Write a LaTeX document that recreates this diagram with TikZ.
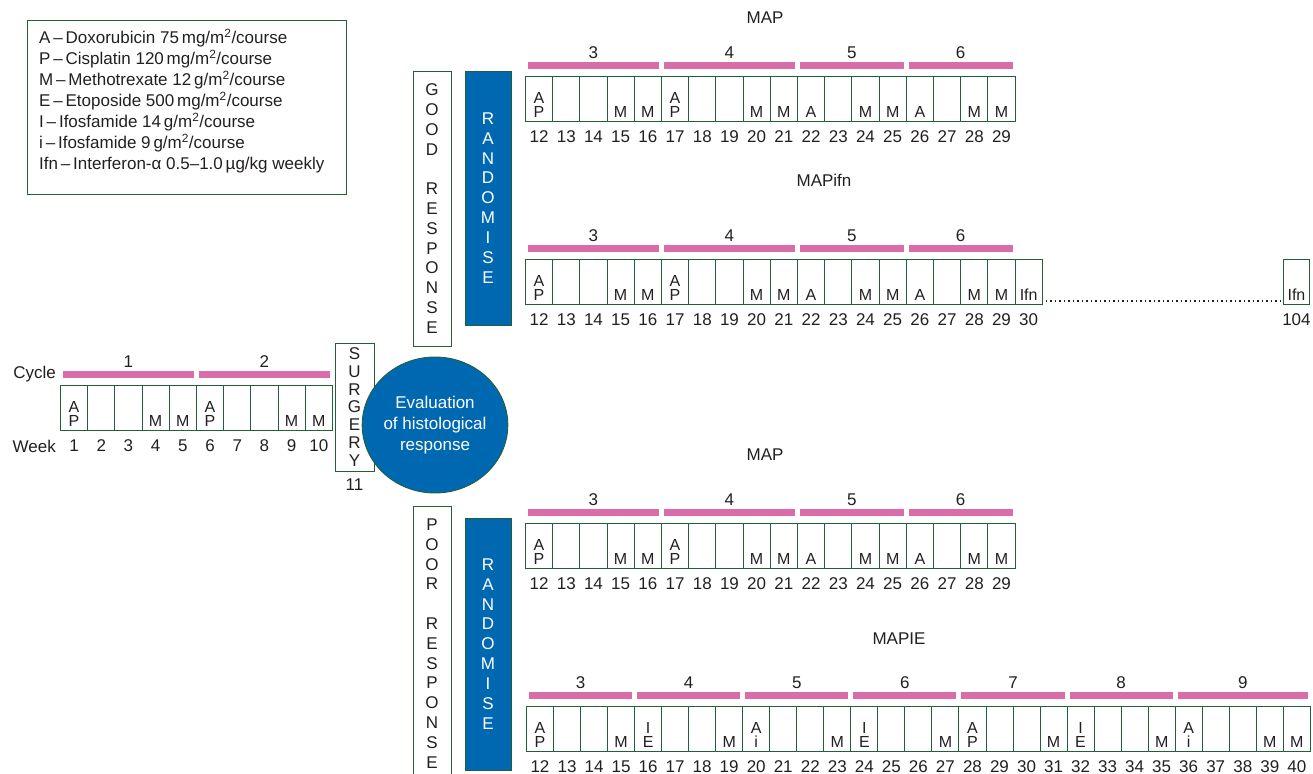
\documentclass[tikz,border=0pt]{standalone}
\usepackage{fontspec}
\setmainfont{Liberation Sans}
\usetikzlibrary{shapes.geometric}
\definecolor{boxgreen}{RGB}{34,96,58}
\definecolor{resblue}{RGB}{0,103,177}
\definecolor{barpink}{RGB}{218,108,170}
\definecolor{inkgrey}{RGB}{35,31,32}
\tikzset{
  every node/.style={text=inkgrey},
  wk/.style={draw=boxgreen,line width=0.9pt,minimum height=45pt,inner sep=0pt,anchor=north west},
  wknum/.style={font=\fontsize{17}{19}\selectfont,inner sep=0pt},
  drug/.style={anchor=south,yshift=4pt,inner sep=0pt,align=center,font=\fontsize{16}{14.5}\selectfont},
  cycbar/.style={draw=barpink,line width=6.5pt},
  cycnum/.style={font=\fontsize{17}{19}\selectfont,inner sep=0pt,yshift=12.5pt},
  title/.style={font=\fontsize{17}{19}\selectfont,inner sep=0pt},
  respbox/.style={draw=boxgreen,line width=0.9pt,fill=white,minimum width=38pt,inner sep=0pt,align=center,font=\fontsize{17}{19.8}\selectfont},
  randbox/.style={draw=boxgreen,line width=0.9pt,fill=resblue,text=white,minimum width=46pt,inner sep=0pt,align=center,font=\fontsize{17}{19.9}\selectfont}
}
% one row of weekly boxes: name, left x, top y, first week, last week, box width
\newcommand\weekrow[6]{%
  \foreach \w in {#4,...,#5}{
    \node[wk,minimum width=#6pt] (#1-\w) at ({#2+(\w-#4)*#6},#3) {};
    \node[wknum] (#1-n\w) at ([yshift=-15pt]#1-\w.south) {\w};
  }}
% pink cycle bar over weeks: row, first, last, cycle
\newcommand\cyc[4]{%
  \draw[cycbar] ([xshift=3pt,yshift=10.5pt]#1-#2.north west) -- ([xshift=-3pt,yshift=10.5pt]#1-#3.north east)
    node[midway,cycnum] (#1-c#4) {#4};}
\begin{document}
\begin{tikzpicture}[x=1pt,y=-1pt]
  \useasboundingbox (0,0) rectangle (1313,773);
  \clip (0,0) rectangle (1313,773);
  % legend
  \node[draw=boxgreen,line width=0.9pt,minimum width=319pt,minimum height=174pt,anchor=north west] (legend) at (27,20) {};
  \node[anchor=north west,inner sep=0pt,align=left,font=\fontsize{17}{21}\selectfont] (legtxt) at ([xshift=12pt,yshift=-9pt]legend.north west)
    {A\,--\,Doxorubicin 75\,mg/m\textsuperscript{2}/course\\
     P\,--\,Cisplatin 120\,mg/m\textsuperscript{2}/course\\
     M\,--\,Methotrexate 12\,g/m\textsuperscript{2}/course\\
     E\,--\,Etoposide 500\,mg/m\textsuperscript{2}/course\\
     I\,--\,Ifosfamide 14\,g/m\textsuperscript{2}/course\\
     i\,--\,Ifosfamide 9\,g/m\textsuperscript{2}/course\\
     Ifn\,--\,Interferon-α 0.5--1.0\,µg/kg weekly};

  % cycles 1 and 2
  \weekrow{pre}{60}{385}{1}{10}{27.2}
  \cyc{pre}{1}{5}{1}
  \cyc{pre}{6}{10}{2}
  \node[title,anchor=east] (cyclelab) at (56,374.5) {Cycle};
  \node[title,anchor=east] (weeklab) at (56,446) {Week};
  \foreach \w/\t in {1/{A\\P},4/M,5/M,6/{A\\P},9/M,10/M}
    \node[drug] (pre-l\w) at (pre-\w.south) {\t};
  \node[draw=boxgreen,line width=0.9pt,minimum width=39pt,minimum height=128pt,inner sep=0pt,align=center,font=\fontsize{17}{17.7}\selectfont] (surgery) at (354.5,407) {S\\U\\R\\G\\E\\R\\Y};
  \node[wknum] (surgery-n) at ([yshift=-13pt]surgery.south) {11};
  \node[ellipse,draw=boxgreen,line width=0.9pt,fill=resblue,text=white,minimum width=112pt,minimum height=136pt,inner sep=0pt,align=center,font=\fontsize{17}{21}\selectfont] (eval) at (435,425) {Evaluation\\of histological\\response};

  % good response
  \node[respbox,minimum height=275pt] (good) at (432,208.5) {G\\O\\O\\D\\~\\R\\E\\S\\P\\O\\N\\S\\E};
  \node[randbox,minimum height=254pt] (randgood) at (488,198) {R\\A\\N\\D\\O\\M\\I\\S\\E};
  \node[title] (maptop) at (765,18) {MAP};
  \weekrow{top}{525}{76}{12}{29}{27.2}
  \cyc{top}{12}{16}{3}
  \cyc{top}{17}{21}{4}
  \cyc{top}{22}{25}{5}
  \cyc{top}{26}{29}{6}
  \foreach \w/\t in {12/{A\\P},15/M,16/M,17/{A\\P},20/M,21/M,22/A,24/M,25/M,26/A,28/M,29/M}
    \node[drug] (top-l\w) at (top-\w.south) {\t};
  \node[title] (mapifn) at (824,180) {MAPifn};
  \weekrow{ifn}{525}{259}{12}{30}{27.2}
  \cyc{ifn}{12}{16}{3}
  \cyc{ifn}{17}{21}{4}
  \cyc{ifn}{22}{25}{5}
  \cyc{ifn}{26}{29}{6}
  \foreach \w/\t in {12/{A\\P},15/M,16/M,17/{A\\P},20/M,21/M,22/A,24/M,25/M,26/A,28/M,29/M,30/Ifn}
    \node[drug] (ifn-l\w) at (ifn-\w.south) {\t};
  \node[wk,minimum width=26pt] (ifn-104) at (1283,259) {};
  \node[wknum] (ifn-n104) at ([yshift=-15pt]ifn-104.south) {104};
  \node[drug] (ifn-l104) at (ifn-104.south) {Ifn};
  \draw[inkgrey,line width=1.3pt,dash pattern=on 1.3pt off 3.2pt] ([xshift=3pt,yshift=4pt]ifn-30.south east) -- ([xshift=-3pt,yshift=4pt]ifn-104.south west);

  % poor response
  \node[respbox,minimum height=275pt] (poor) at (432,643.5) {P\\O\\O\\R\\~\\R\\E\\S\\P\\O\\N\\S\\E};
  \node[randbox,minimum height=252pt] (randpoor) at (488,644) {R\\A\\N\\D\\O\\M\\I\\S\\E};
  \node[title] (mapbot) at (765,455) {MAP};
  \weekrow{bot}{525}{523}{12}{29}{27.2}
  \cyc{bot}{12}{16}{3}
  \cyc{bot}{17}{21}{4}
  \cyc{bot}{22}{25}{5}
  \cyc{bot}{26}{29}{6}
  \foreach \w/\t in {12/{A\\P},15/M,16/M,17/{A\\P},20/M,21/M,22/A,24/M,25/M,26/A,28/M,29/M}
    \node[drug] (bot-l\w) at (bot-\w.south) {\t};
  \node[title] (mapie) at (899,639) {MAPIE};
  \weekrow{ie}{526}{706}{12}{40}{27.03}
  \cyc{ie}{12}{15}{3}
  \cyc{ie}{16}{19}{4}
  \cyc{ie}{20}{23}{5}
  \cyc{ie}{24}{27}{6}
  \cyc{ie}{28}{31}{7}
  \cyc{ie}{32}{35}{8}
  \cyc{ie}{36}{40}{9}
  \foreach \w/\t in {12/{A\\P},15/M,16/{I\\E},19/M,20/{A\\i},23/M,24/{I\\E},27/M,28/{A\\P},31/M,32/{I\\E},35/M,36/{A\\i},39/M,40/M}
    \node[drug] (ie-l\w) at (ie-\w.south) {\t};
\end{tikzpicture}
\end{document}
